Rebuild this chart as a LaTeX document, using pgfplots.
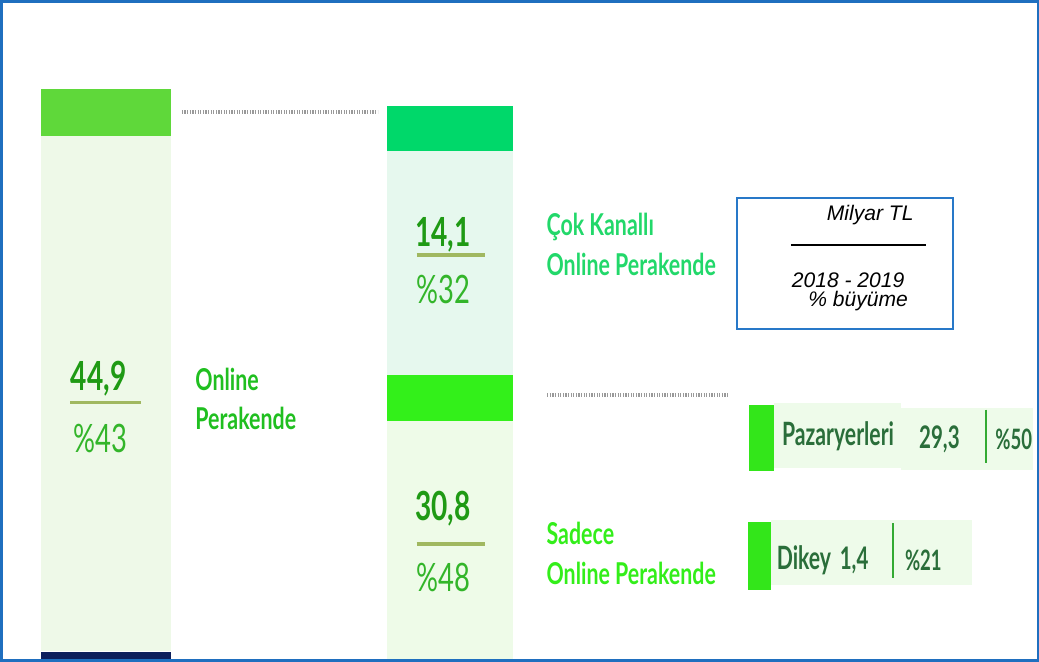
\documentclass[border=0pt]{standalone}
\usepackage{pgfplots}
\pgfplotsset{compat=1.18}
\usepackage{fontspec}
\setmainfont{Liberation Sans}
\newfontfamily\lato[FakeStretch=0.70]{Lato}
\newfontfamily\latol[FakeStretch=0.71]{Lato}
\newfontfamily\latoc[FakeStretch=0.66]{Lato}
\definecolor{topL}{HTML}{5FD83A}
\definecolor{lightL}{HTML}{EEF9E8}
\definecolor{navy}{HTML}{0D1F5C}
\definecolor{topM}{HTML}{00D86A}
\definecolor{lightMu}{HTML}{E6F8EE}
\definecolor{midM}{HTML}{33F01A}
\definecolor{lightMl}{HTML}{EEFBE8}
\definecolor{numc}{HTML}{1F9A14}
\definecolor{pctc}{HTML}{33B52A}
\definecolor{olivel}{HTML}{A0B860}
\definecolor{lblL}{HTML}{20BF20}
\definecolor{lblC}{HTML}{22D86A}
\definecolor{lblS}{HTML}{33EE1A}
\definecolor{rowtxt}{HTML}{2A6E3A}
\definecolor{rowbg}{HTML}{EEFBEA}
\definecolor{rowsq}{HTML}{33E61A}
\definecolor{sepc}{HTML}{33AA33}
\definecolor{boxblue}{HTML}{2878C8}
\definecolor{frameblue}{HTML}{1F6FBF}
\newcommand{\rect}[5]{\addplot[fill=#1, draw=none] coordinates {(#2,#3) (#4,#3) (#4,#5) (#2,#5)} -- cycle;}
\begin{document}
\begin{tikzpicture}
\begin{axis}[scale only axis, width=1039pt, height=664pt,
  xmin=0, xmax=1039, ymin=0, ymax=664, y dir=reverse,
  axis lines=none, ticks=none, clip=false]
% left column
\rect{lightL}{43}{137}{172}{651}
\rect{topL}{43}{90}{172}{137}
\rect{navy}{43}{652}{172}{660}
% middle column
\rect{lightMu}{387}{152}{513}{375}
\rect{topM}{387}{107}{513}{152}
\rect{lightMl}{387}{421}{513}{660}
\rect{midM}{387}{375}{513}{421}
% dotted connectors
\addplot[gray!80, line width=4pt, dash pattern=on 1.2pt off 1.4pt] coordinates {(183,113) (378,113)};
\addplot[gray!80, line width=4pt, dash pattern=on 1.2pt off 1.4pt] coordinates {(547,395) (727,395)};
% underline bars
\addplot[olivel, line width=3.5pt] coordinates {(72,403) (142,403)};
\addplot[olivel, line width=3.5pt] coordinates {(417,256) (485,256)};
\addplot[olivel, line width=3.5pt] coordinates {(417,544) (485,544)};
% legend box
\addplot[draw=boxblue, line width=2pt, fill=white] coordinates {(736,199) (952,199) (952,330) (736,330)} -- cycle;
\addplot[black, line width=1.5pt] coordinates {(790,246) (925,246)};
% rows
\rect{rowbg}{773}{403}{900}{468}
\rect{rowbg}{900}{408}{1031}{470}
\rect{rowsq}{748}{405}{773}{471}
\addplot[sepc, line width=2pt] coordinates {(984,410) (984,463)};
\rect{rowbg}{770}{520}{970}{585}
\rect{rowsq}{747}{522}{770}{590}
\addplot[sepc, line width=2pt] coordinates {(892,523) (892,578)};
% frame
\addplot[frameblue, line width=2.5pt] coordinates {(3,3) (1036,3) (1036,660) (3,660)} -- cycle;
% texts
\node[font=\lato\bfseries\fontsize{40}{44}\selectfont, text=numc] at (axis cs:100,379) {44,9};
\node[font=\lato\fontsize{39}{44}\selectfont, text=pctc] at (axis cs:102,439) {\%43};
\node[font=\lato\bfseries\fontsize{40}{44}\selectfont, text=numc] at (axis cs:443,236) {14,1};
\node[font=\lato\fontsize{39}{44}\selectfont, text=pctc] at (axis cs:444,290) {\%32};
\node[font=\lato\bfseries\fontsize{40}{44}\selectfont, text=numc] at (axis cs:443,509) {30,8};
\node[font=\lato\fontsize{39}{44}\selectfont, text=pctc] at (axis cs:444,577) {\%48};
\node[font=\latol\bfseries\fontsize{30}{39}\selectfont, text=lblL, anchor=west, align=left] at (axis cs:193,399) {Online\\Perakende};
\node[font=\latol\bfseries\fontsize{30}{40}\selectfont, text=lblC, anchor=west, align=left] at (axis cs:543,245) {Çok Kanallı\\Online Perakende};
\node[font=\latol\bfseries\fontsize{30}{40}\selectfont, text=lblS, anchor=west, align=left] at (axis cs:543,553) {Sadece\\Online Perakende};
\node[font=\itshape\fontsize{21}{24}\selectfont] at (axis cs:869,216) {Milyar TL};
\node[font=\itshape\fontsize{21}{24}\selectfont] at (axis cs:847,281) {2018 - 2019};
\node[font=\itshape\fontsize{21}{24}\selectfont] at (axis cs:857,302) {\% büyüme};
\node[font=\latoc\bfseries\fontsize{32}{34}\selectfont, text=rowtxt] at (axis cs:837,437) {Pazaryerleri};
\node[font=\latoc\bfseries\fontsize{31}{34}\selectfont, text=rowtxt] at (axis cs:938,440) {29,3};
\node[font=\latoc\bfseries\fontsize{28}{34}\selectfont, text=rowtxt] at (axis cs:1012,440) {\%50};
\node[font=\latoc\bfseries\fontsize{32}{34}\selectfont, text=rowtxt] at (axis cs:803,560) {Dikey};
\node[font=\latoc\bfseries\fontsize{31}{34}\selectfont, text=rowtxt] at (axis cs:853,560) {1,4};
\node[font=\latoc\bfseries\fontsize{28}{34}\selectfont, text=rowtxt] at (axis cs:922,560) {\%21};
\end{axis}
\end{tikzpicture}
\end{document}
